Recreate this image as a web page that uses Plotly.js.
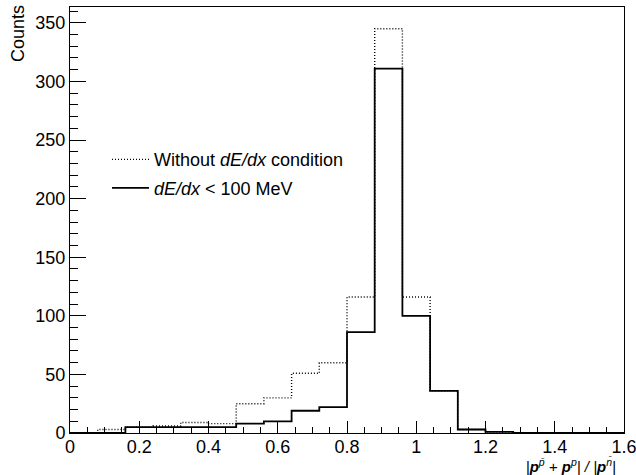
<!DOCTYPE html>
<html>
<head>
<meta charset="utf-8">
<script src="https://cdn.plot.ly/plotly-3.0.1.min.js"></script>
<style>html,body{margin:0;padding:0;background:#fff;}#chart{width:636px;height:475px;}</style>
</head>
<body>
<div id="chart"></div>
<script>
// Histogram binning (20 bins from 0 to 1.6)
const binStart = 0;
const binWidth = 0.08;
// Counts per bin
const countsWithout = [0, 3, 5, 6, 9, 8, 25, 30, 51, 60, 116, 345, 116, 36, 3, 1, 0, 0, 0, 0];
const countsCut = [0, 0, 5, 5, 5, 5, 8, 10, 19, 22, 86, 311, 100, 36, 3, 1, 0, 0, 0, 0];
const seriesNames = ['Without <i>dE/dx</i> condition', '<i>dE/dx</i> &lt; 100 MeV'];
const xTickVals = [0, 0.2, 0.4, 0.6, 0.8, 1, 1.2, 1.4, 1.6];
const xTickText = ['0', '0.2', '0.4', '0.6', '0.8', '1', '1.2', '1.4', '1.6'];
const yTickVals = [0, 50, 100, 150, 200, 250, 300, 350];

function stepXY(counts) {
  const xs = [binStart], ys = [0];
  counts.forEach((c, i) => { xs.push(binStart + i * binWidth); ys.push(c); });
  xs.push(binStart + counts.length * binWidth); ys.push(counts[counts.length - 1]);
  return {xs, ys};
}
const a = stepXY(countsWithout);
const b = stepXY(countsCut);

const FONT = 'Liberation Sans, Arial, Helvetica, sans-serif';
const traces = [
  {x: a.xs, y: a.ys, type: 'scatter', mode: 'lines', line: {shape: 'hv', color: '#000', width: 1.4, dash: '1px,2px'},
   name: seriesNames[0], legendgroup: 'g1', hoverinfo: 'skip'},
  {x: b.xs, y: b.ys, type: 'scatter', mode: 'lines', line: {shape: 'hv', color: '#000', width: 1.8},
   name: seriesNames[1], legendgroup: 'g2', hoverinfo: 'skip'}
];

const layout = {
  width: 636, height: 475,
  margin: {l: 70, r: 12, t: 7, b: 42},
  paper_bgcolor: '#fff', plot_bgcolor: '#fff',
  font: {family: FONT, size: 18, color: '#000'},
  showlegend: true,
  legend: {x: 0.0668, y: 0.685, xanchor: 'left', yanchor: 'top', bgcolor: 'rgba(0,0,0,0)', itemwidth: 37,
           font: {family: FONT, size: 18, color: '#000'}, traceorder: 'grouped', tracegroupgap: 2},
  xaxis: {
    range: [0, 1.6], tickmode: 'array', tickvals: xTickVals, ticktext: xTickText,
    ticks: 'inside', ticklen: 12, tickwidth: 1, tickcolor: '#000', ticklabeloverflow: 'allow',
    ticklabelstandoff: -3,
    minor: {ticks: 'inside', ticklen: 6, dtick: 0.05, tickcolor: '#000', showgrid: false},
    showline: true, linecolor: '#000', linewidth: 1, mirror: true,
    showgrid: false, zeroline: false,
    tickfont: {family: FONT, size: 18, color: '#000'},
    title: {text: '<i>|<b>p</b><sup>p\u0304</sup> + <b>p</b><sup>p</sup>| / |<b>p</b><sup>n\u0304</sup>|</i>',
            font: {family: FONT, size: 15, color: '#000'}, standoff: 2}
  },
  yaxis: {
    range: [0, 363.5], tickmode: 'array', tickvals: yTickVals,
    ticks: 'inside', ticklen: 16, tickwidth: 1, tickcolor: '#000',
    minor: {ticks: 'inside', ticklen: 8, dtick: 10, tickcolor: '#000', showgrid: false},
    showline: true, linecolor: '#000', linewidth: 1, mirror: true,
    showgrid: false, zeroline: false,
    tickfont: {family: FONT, size: 18, color: '#000'},
    title: {text: 'Counts', font: {family: FONT, size: 18, color: '#000'}}
  }
};

Plotly.newPlot('chart', traces, layout, {displayModeBar: false, staticPlot: true}).then(() => {
  // Right-align the x title and top-align the y title like ROOT does
  const xt = document.querySelector('.g-xtitle text');
  if (xt) { xt.setAttribute('text-anchor', 'end'); xt.setAttribute('x', 616); xt.setAttribute('y', 469); }
  const yt = document.querySelector('.g-ytitle text');
  if (yt) { yt.setAttribute('text-anchor', 'end'); yt.setAttribute('x', 24); yt.setAttribute('y', 5);
            yt.setAttribute('transform', 'rotate(-90,24,5)'); }
});
</script>
</body>
</html>
